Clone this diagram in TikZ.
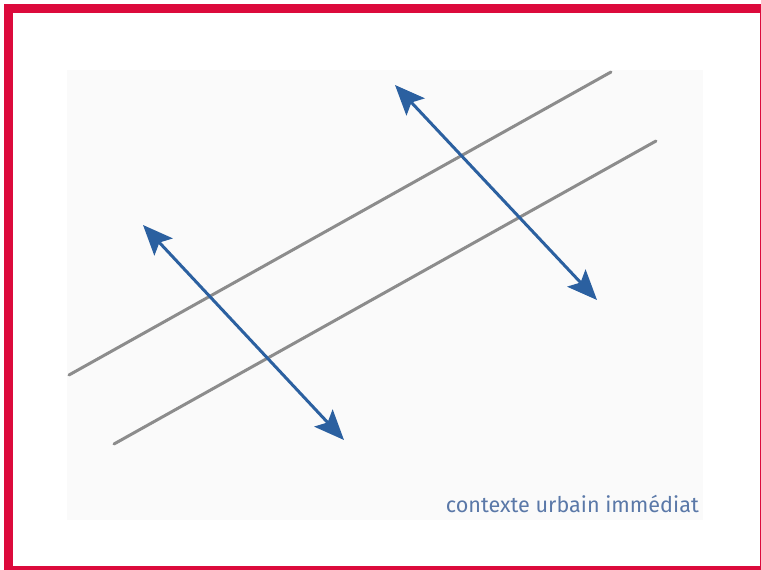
\documentclass[tikz,border=0pt]{standalone}
\usepackage{fontspec}
\setmainfont{Fira Sans}
\usetikzlibrary{arrows.meta}

\definecolor{framered}{HTML}{DC0A3C}
\definecolor{arrowblue}{HTML}{2B60A0}
\definecolor{roadgray}{HTML}{8C8C8C}
\definecolor{labelblue}{HTML}{5A78A8}
\definecolor{panelgray}{HTML}{FAFAFA}

\tikzset{
  road/.style={draw=roadgray, line width=3pt, line cap=round},
  flow/.style={draw=arrowblue, line width=3pt,
    {Stealth[length=30pt, width=25pt, inset=6pt]}-{Stealth[length=30pt, width=25pt, inset=6pt]}},
}

\begin{document}
\begin{tikzpicture}[x=1pt, y=-1pt]
\useasboundingbox (0,0) rectangle (761,570);

% cadre
\begin{scope}
\clip (0,0) rectangle (761,570);
\draw[framered, line width=9pt] (8.5,8) rectangle (764,570.5);
\end{scope}
\fill[panelgray] (67,70) rectangle (703,520);

% voies
\coordinate (r1a) at (69,375);
\coordinate (r1b) at (611,72);
\coordinate (r2a) at (114,444);
\coordinate (r2b) at (656,141);
\draw[road] (r1a) -- (r1b);
\draw[road] (r2a) -- (r2b);

% echanges
\coordinate (f1a) at (143,225);
\coordinate (f1b) at (344,440);
\coordinate (f2a) at (395,85);
\coordinate (f2b) at (597,300);
\draw[flow] (f1a) -- (f1b);
\draw[flow] (f2a) -- (f2b);

\node[anchor=base east, inner sep=0pt, text=labelblue, font=\fontsize{21.6}{26}\selectfont]
  (lbl) at (699,512) {contexte urbain immédiat};
\end{tikzpicture}
\end{document}
